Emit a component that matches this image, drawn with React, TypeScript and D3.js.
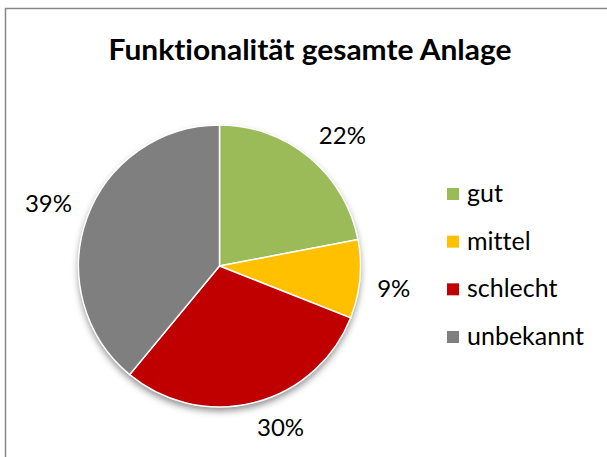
import React from "react";
import * as d3 from "d3";

const categories = ["gut", "mittel", "schlecht", "unbekannt"];
const values = [22, 9, 30, 39];
const colors = ["#9BBB59", "#FFC000", "#C00000", "#7F7F7F"];
const title = "Funktionalität gesamte Anlage";

const W = 607;
const H = 457;
const cx = 219.5;
const cy = 266;
const r = 141;
const font = "Lato, 'Liberation Sans', sans-serif";
const labelSize = 24;
const capH = 16;

export default function App() {
  const pie = d3.pie<number>().sort(null).value((d) => d);
  const arcs = pie(values);
  const arc = d3.arc<d3.PieArcDatum<number>>().innerRadius(0).outerRadius(r);
  const total = d3.sum(values);

  const legendY = d3
    .scalePoint<string>()
    .domain(categories)
    .range([194, 337]);

  return (
    <div style={{ position: "absolute", left: 0, top: 0 }}>
      <svg width={W} height={H} style={{ display: "block", background: "#fff", fontVariantLigatures: "none" }}>
        <defs>
          <filter id="sh" x="-20%" y="-20%" width="140%" height="140%">
            <feDropShadow dx="0" dy="4" stdDeviation="3.5" floodColor="#000" floodOpacity="0.45" />
          </filter>
        </defs>
        <rect x={5.5} y={8.5} width={800} height={800} fill="#fff" stroke="#878787" strokeWidth={1.5} />
        <text
          x={310}
          y={59.5}
          textAnchor="middle"
          fontFamily={font}
          fontWeight="bold"
          fontSize={28}
          textLength={403}
          lengthAdjust="spacingAndGlyphs"
          fill="#000"
        >
          {title}
        </text>
        <g transform={`translate(${cx},${cy})`}>
          <circle r={r} fill="#fff" filter="url(#sh)" />
          {arcs.map((a, i) => (
            <path key={i} d={arc(a) || ""} fill={colors[i]} stroke="#fff" strokeWidth={1.5} />
          ))}
          {arcs.map((a, i) => {
            const mid = (a.startAngle + a.endAngle) / 2;
            const dx = Math.sin(mid);
            const dy = -Math.cos(mid);
            const R = r + 18;
            const txt = `${Math.round((values[i] / total) * 100)}%`;
            const hw = txt.length === 2 ? 16 : 21.5;
            const hh = capH / 2;
            const x = R * dx + Math.sign(dx) * hw;
            const y = R * dy + Math.sign(dy) * hh;
            return (
              <text
                key={"l" + i}
                x={x}
                y={y + capH / 2}
                textAnchor="middle"
                fontFamily={font}
                fontSize={labelSize}
                fill="#000"
              >
                {txt}
              </text>
            );
          })}
        </g>
        {categories.map((c, i) => {
          const y = legendY(c) as number;
          return (
            <g key={c}>
              <rect x={447} y={y - 6} width={12} height={12} fill={colors[i]} />
              <text x={467} y={y + 8} fontFamily={font} fontSize={25} fill="#000">
                {c}
              </text>
            </g>
          );
        })}
      </svg>
    </div>
  );
}
